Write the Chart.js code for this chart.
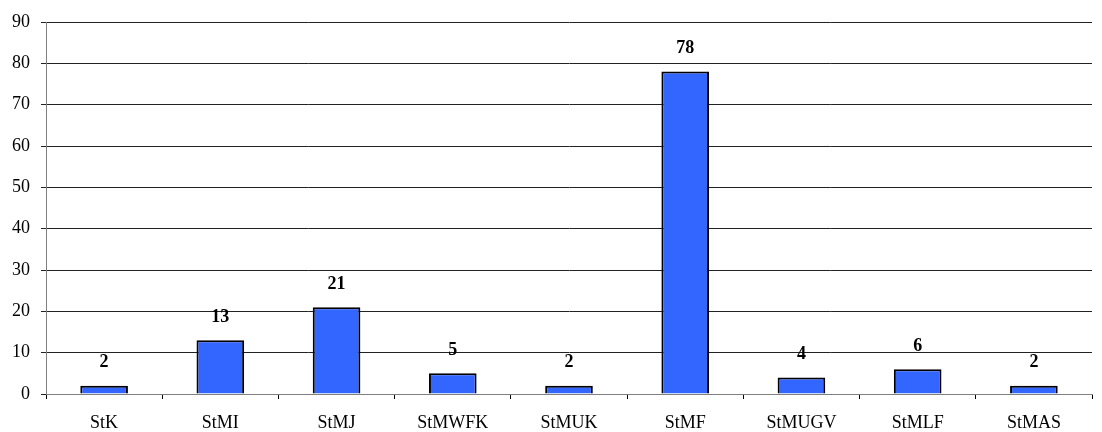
<!DOCTYPE html>
<html>
<head>
<meta charset="utf-8">
<style>
  html, body { margin: 0; padding: 0; background: #ffffff; }
  #wrap { width: 1102px; height: 432px; position: relative; }
</style>
<script src="https://cdn.jsdelivr.net/npm/chart.js@4/dist/chart.umd.min.js"></script>
</head>
<body>
<div id="wrap"><canvas id="chart" width="1102" height="432"></canvas></div>
<script>
const categories = ['StK', 'StMI', 'StMJ', 'StMWFK', 'StMUK', 'StMF', 'StMUGV', 'StMLF', 'StMAS'];
const counts = [2, 13, 21, 5, 2, 78, 4, 6, 2];
const yTicks = [0, 10, 20, 30, 40, 50, 60, 70, 80, 90];

const serif = '"Liberation Serif", "Times New Roman", serif';

// Bold value written above each bar
const valueLabels = {
  id: 'valueLabels',
  afterDatasetsDraw(chart) {
    const ctx = chart.ctx;
    const meta = chart.getDatasetMeta(0);
    ctx.save();
    ctx.font = 'bold 18px ' + serif;
    ctx.fillStyle = '#000';
    ctx.textAlign = 'center';
    ctx.textBaseline = 'bottom';
    meta.data.forEach((bar, i) => {
      ctx.fillText(String(counts[i]), bar.x, bar.y - 14);
    });
    ctx.restore();
  }
};

new Chart(document.getElementById('chart'), {
  type: 'bar',
  data: {
    labels: categories,
    datasets: [{
      data: counts,
      backgroundColor: '#3366ff',
      borderColor: '#000000',
      borderWidth: 2,
      categoryPercentage: 1,
      barPercentage: 0.41
    }]
  },
  options: {
    responsive: false,
    animation: false,
    layout: { padding: { top: 22, right: 10, left: 0, bottom: 0 } },
    plugins: { legend: { display: false }, tooltip: { enabled: false } },
    scales: {
      x: {
        offset: true,
        grid: {
          offset: true,
          drawOnChartArea: false,
          drawTicks: true,
          tickLength: 5,
          color: '#000'
        },
        border: { color: '#808080', width: 1 },
        ticks: {
          color: '#000',
          font: { family: serif, size: 18 },
          padding: 13,
          maxRotation: 0
        },
        afterFit(scale) { scale.height = 38; }
      },
      y: {
        min: 0,
        max: 90,
        afterBuildTicks(scale) { scale.ticks = yTicks.map(v => ({ value: v })); },
        grid: {
          color: '#222',
          lineWidth: 1,
          tickLength: 5,
          drawTicks: true
        },
        border: { color: '#808080', width: 1 },
        ticks: {
          color: '#000',
          font: { family: serif, size: 18 },
          padding: 11
        },
        afterFit(scale) { scale.width = 46; }
      }
    }
  },
  plugins: [valueLabels]
});
</script>
</body>
</html>
